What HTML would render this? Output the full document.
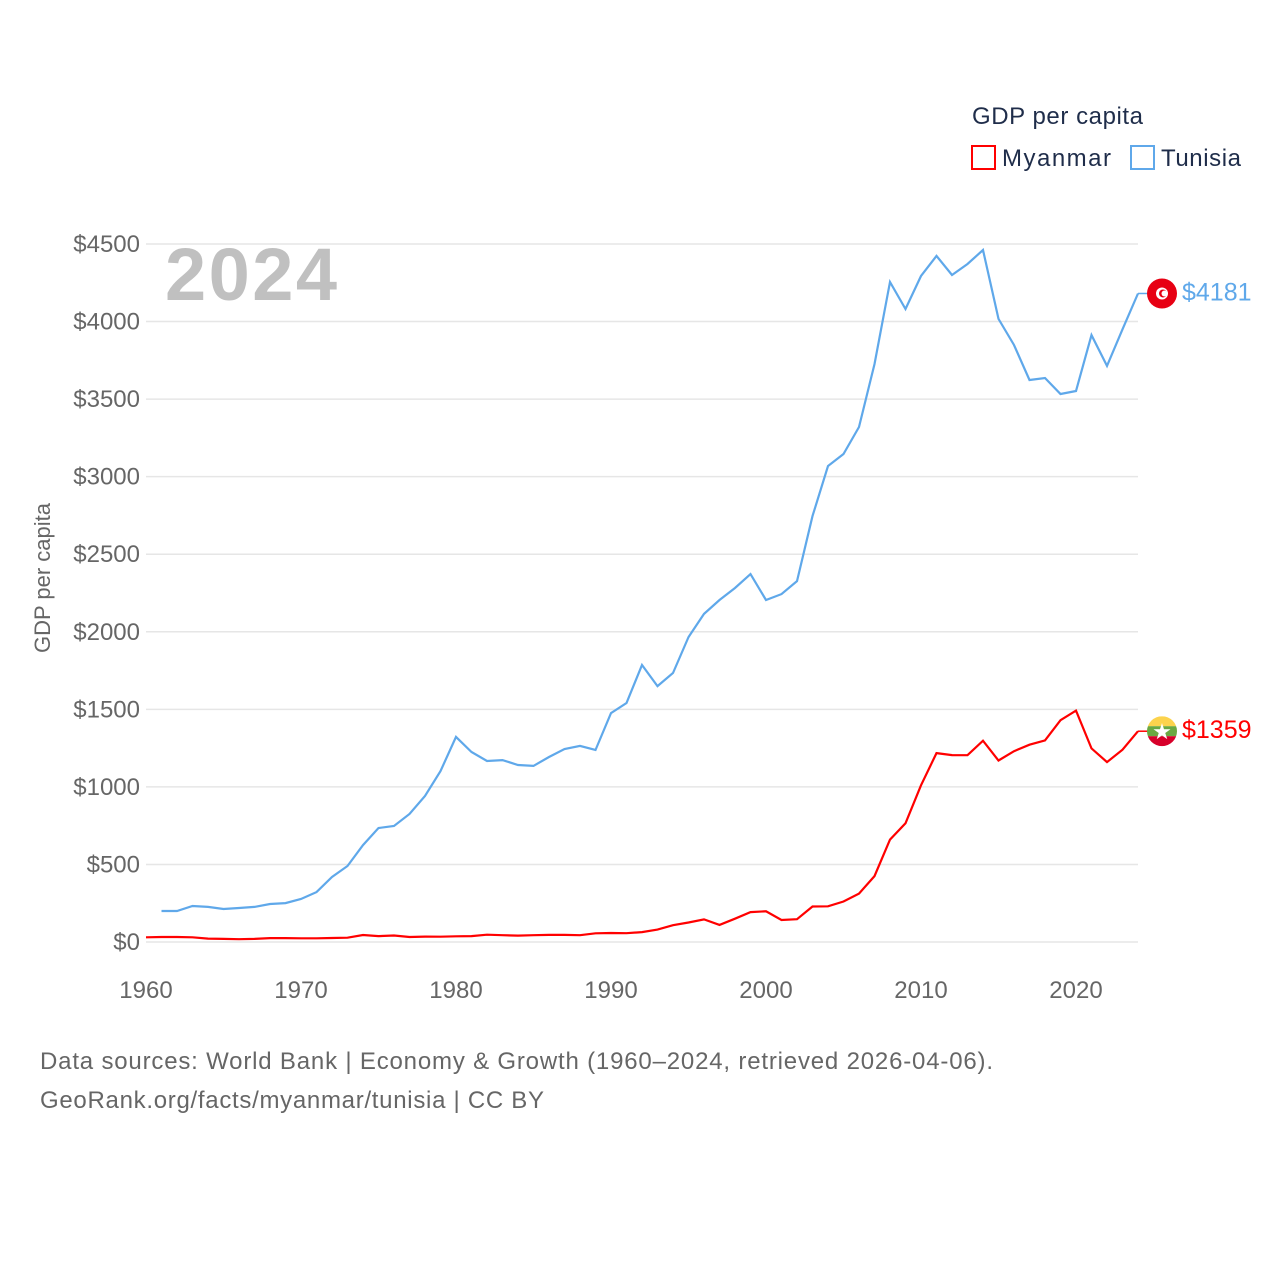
<!DOCTYPE html>
<html><head><meta charset="utf-8"><style>
body{margin:0;background:#fff;font-family:"Liberation Sans",sans-serif}
</style></head><body>
<svg id="c" width="1280" height="1280" xmlns="http://www.w3.org/2000/svg" style="font-family:'Liberation Sans',sans-serif">
<g id="grid"></g>
<g id="yt"></g>
<g id="xt"></g>
<text x="165" y="300" font-size="74" font-weight="bold" fill="#c0c0c0" textLength="172">2024</text>
<text transform="translate(50,578) rotate(-90)" text-anchor="middle" font-size="22" fill="#666">GDP per capita</text>
<g>
<text x="972" y="124" font-size="24" fill="#1f2d4a" textLength="171">GDP per capita</text>
<rect x="972" y="146" width="23" height="23" fill="none" stroke="#ff0000" stroke-width="2"/>
<text x="1002" y="166" font-size="24" fill="#1f2d4a" textLength="109">Myanmar</text>
<rect x="1131" y="146" width="23" height="23" fill="none" stroke="#5fa8ea" stroke-width="2"/>
<text x="1161" y="166" font-size="24" fill="#1f2d4a" textLength="80">Tunisia</text>
</g>
<path id="lt" fill="none" stroke="#5fa8ea" stroke-width="2.2"/>
<path id="lm" fill="none" stroke="#ff0000" stroke-width="2.2"/>
<g id="ends"></g>
<text x="40" y="1069" font-size="24" fill="#666" textLength="953">Data sources: World Bank | Economy &amp; Growth (1960–2024, retrieved 2026-04-06).</text>
<text x="40" y="1108" font-size="24" fill="#666" textLength="504">GeoRank.org/facts/myanmar/tunisia | CC BY</text>
</svg>
<script>
const yTicks=[0,500,1000,1500,2000,2500,3000,3500,4000,4500];
const xTicks=[1960,1970,1980,1990,2000,2010,2020];
const tunisiaYears=[1961,1962,1963,1964,1965,1966,1967,1968,1969,1970,1971,1972,1973,1974,1975,1976,1977,1978,1979,1980,1981,1982,1983,1984,1985,1986,1987,1988,1989,1990,1991,1992,1993,1994,1995,1996,1997,1998,1999,2000,2001,2002,2003,2004,2005,2006,2007,2008,2009,2010,2011,2012,2013,2014,2015,2016,2017,2018,2019,2020,2021,2022,2023,2024];
const tunisiaValues=[200,200,232,226,213,219,226,245,251,277,322,419,490,625,735,748,825,941,1102,1322,1225,1167,1173,1141,1135,1193,1244,1264,1238,1476,1541,1786,1650,1734,1966,2115,2205,2282,2372,2205,2243,2327,2746,3069,3146,3320,3726,4255,4081,4294,4423,4300,4371,4461,4017,3849,3623,3636,3533,3552,3913,3714,3950,4181];
const myanmarYears=[1960,1961,1962,1963,1964,1965,1966,1967,1968,1969,1970,1971,1972,1973,1974,1975,1976,1977,1978,1979,1980,1981,1982,1983,1984,1985,1986,1987,1988,1989,1990,1991,1992,1993,1994,1995,1996,1997,1998,1999,2000,2001,2002,2003,2004,2005,2006,2007,2008,2009,2010,2011,2012,2013,2014,2015,2016,2017,2018,2019,2020,2021,2022,2023,2024];
const myanmarValues=[30,32,32,30,22,20,18,20,25,25,24,24,26,28,45,38,42,32,35,34,37,38,47,44,41,44,46,46,44,56,58,57,64,80,108,126,146,110,150,193,198,142,147,229,230,261,312,425,660,765,1010,1218,1205,1204,1298,1170,1230,1272,1300,1430,1492,1248,1160,1240,1359];
const X=y=>146+(y-1960)*15.5;
const Y=v=>942-v*(698/4500);
const NS="http://www.w3.org/2000/svg";
function mk(t,a,p){const e=document.createElementNS(NS,t);for(const k in a)e.setAttribute(k,a[k]);p.appendChild(e);return e;}
const grid=document.getElementById('grid'),yt=document.getElementById('yt'),xt=document.getElementById('xt');
yTicks.forEach(v=>{
 const l=mk('line',{x1:146,x2:1138,y1:Y(v),y2:Y(v),stroke:'#e6e6e6','stroke-width':1.5},grid);
 
 
 const t=mk('text',{x:140,y:Y(v)+8,'text-anchor':'end','font-size':24,fill:'#666'},yt);
 t.textContent='$'+v;
 
 
});
xTicks.forEach(y=>{
 const t=mk('text',{x:X(y),y:998,'text-anchor':'middle','font-size':24,fill:'#666'},xt);
 t.textContent=y;
 
 
});
function path(ys,vs){return ys.map((y,i)=>(i?'L':'M')+X(y).toFixed(1)+','+Y(vs[i]).toFixed(1)).join('');}
document.getElementById('lt').setAttribute('d',path(tunisiaYears,tunisiaValues));
document.getElementById('lm').setAttribute('d',path(myanmarYears,myanmarValues));
const ends=document.getElementById('ends');
function endLabel(v,col,name,flag){
 const y=Y(v),x0=X(2024);
 const l=mk('line',{x1:x0,x2:x0+10,y1:y,y2:y,stroke:col,'stroke-width':1.5},ends);
 
 
 const g=mk('g',{},ends);
 
 
 flag(g,1162,y);
 const t=mk('text',{x:1182,y:y+7,'font-size':25,fill:col},ends);
 t.textContent='$'+v;
 
 
}
endLabel(tunisiaValues[tunisiaValues.length-1],'#5fa8ea','tunisia',(g,x,y)=>{
 mk('circle',{cx:x,cy:y,r:15,fill:'#e70013'},g);
 mk('circle',{cx:x,cy:y,r:6,fill:'#fff'},g);
 mk('circle',{cx:x+1,cy:y,r:4,fill:'#e70013'},g);
 mk('circle',{cx:x+2.5,cy:y,r:3,fill:'#fff'},g);
});
endLabel(myanmarValues[myanmarValues.length-1],'#ff0000','myanmar',(g,x,y)=>{
 const cp=mk('clipPath',{id:'mmclip'},g);mk('circle',{cx:x,cy:y,r:15},cp);
 const gg=mk('g',{'clip-path':'url(#mmclip)'},g);
 mk('rect',{x:x-15,y:y-15,width:30,height:10,fill:'#fcd34d'},gg);
 mk('rect',{x:x-15,y:y-5,width:30,height:10,fill:'#6aa842'},gg);
 mk('rect',{x:x-15,y:y+5,width:30,height:10,fill:'#d7002a'},gg);
 mk('text',{x:x,y:y+8,'text-anchor':'middle','font-size':22,fill:'#fff'},gg).textContent='★';
});
</script>
</body></html>
